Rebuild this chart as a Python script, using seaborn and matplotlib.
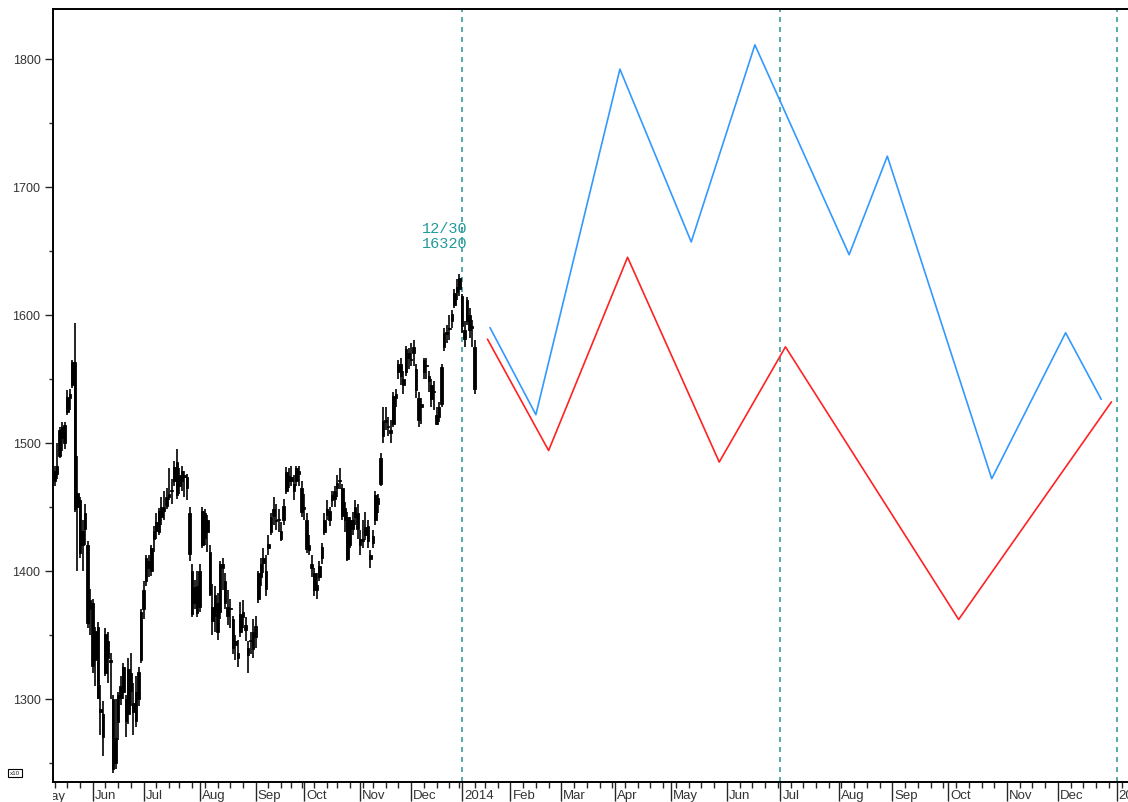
import numpy as np
import pandas as pd
import matplotlib
matplotlib.use("Agg")
import matplotlib.pyplot as plt
import seaborn as sns
from matplotlib.transforms import Bbox, TransformedBbox, ScaledTranslation

# ---------------- data (index /10) ----------------
# daily candles, 2013-05-13 .. 2014-01-14 (Tokyo trading days)
open_ = [
    1470, 1482, 1490, 1512, 1500, 1524, 1535, 1545, 1563, 1450, 1455, 1420, 1445, 1420, 1370,  # May
    1375, 1330, 1356, 1292, 1270, 1320, 1345, 1330, 1300, 1250, 1282, 1310, 1305, 1300, 1288,
    1320, 1290, 1305, 1300, 1330,  # Jun
    1370, 1392, 1408, 1400, 1425, 1438, 1430, 1450, 1450, 1458, 1458, 1462, 1470, 1485, 1475,
    1470, 1475, 1465, 1445, 1400, 1375, 1388,  # Jul
    1372, 1420, 1445, 1430, 1415, 1372, 1365, 1375, 1368, 1402, 1392, 1372, 1370, 1362, 1345,
    1332, 1352, 1368, 1358, 1340, 1345, 1352,  # Aug
    1348, 1378, 1395, 1410, 1400, 1418, 1430, 1448, 1440, 1440, 1425, 1440, 1462, 1470, 1470,
    1468, 1470, 1478, 1465,  # Sep
    1450, 1440, 1420, 1405, 1398, 1385, 1395, 1410, 1430, 1448, 1440, 1455, 1462, 1465, 1470,
    1465, 1440, 1442, 1420, 1440, 1442, 1445,  # Oct
    1425, 1425, 1428, 1435, 1412, 1422, 1440, 1452, 1468, 1505, 1518, 1512, 1510, 1515, 1535,
    1555, 1562, 1550, 1555, 1570,  # Nov
    1565, 1570, 1558, 1535, 1528, 1555, 1560, 1548, 1545, 1540, 1522, 1520, 1530, 1575, 1585,
    1590, 1595, 1608, 1622, 1620,  # Dec
    1615, 1588, 1595, 1600, 1590, 1575,  # Jan
]
high = [
    1482, 1500, 1512, 1516, 1516, 1541, 1542, 1565, 1594, 1490, 1458, 1440, 1452, 1423, 1386,
    1378, 1356, 1360, 1311, 1298, 1355, 1352, 1336, 1303, 1300, 1305, 1318, 1328, 1303, 1332,
    1336, 1312, 1318, 1325, 1370,
    1392, 1412, 1412, 1420, 1435, 1445, 1449, 1458, 1462, 1465, 1480, 1472, 1486, 1495, 1480,
    1482, 1478, 1476, 1450, 1405, 1393, 1400,
    1405, 1450, 1448, 1444, 1420, 1390, 1388, 1383, 1408, 1410, 1398, 1385, 1378, 1365, 1350,
    1346, 1376, 1377, 1364, 1345, 1352, 1362,
    1365, 1400, 1410, 1418, 1412, 1428, 1445, 1458, 1452, 1448, 1438, 1456, 1481, 1480, 1482,
    1475, 1482, 1482, 1470,
    1460, 1445, 1428, 1412, 1402, 1398, 1408, 1422, 1445, 1455, 1450, 1462, 1466, 1475, 1480,
    1468, 1454, 1446, 1442, 1446, 1455, 1452,
    1432, 1440, 1446, 1440, 1416, 1432, 1462, 1460, 1492, 1528, 1528, 1520, 1518, 1540, 1542,
    1565, 1566, 1556, 1576, 1574,
    1578, 1580, 1562, 1540, 1535, 1566, 1566, 1556, 1550, 1548, 1528, 1532, 1562, 1590, 1592,
    1600, 1604, 1620, 1628, 1632,
    1616, 1595, 1614, 1605, 1596, 1580,
]
low = [
    1466, 1472, 1488, 1494, 1495, 1522, 1526, 1543, 1446, 1400, 1410, 1400, 1420, 1355, 1350,
    1320, 1310, 1300, 1272, 1255, 1318, 1312, 1300, 1242, 1245, 1268, 1295, 1300, 1270, 1280,
    1294, 1272, 1278, 1294, 1328,
    1362, 1388, 1395, 1396, 1415, 1425, 1428, 1436, 1440, 1448, 1455, 1452, 1466, 1456, 1460,
    1462, 1458, 1455, 1408, 1364, 1370, 1364,
    1368, 1418, 1420, 1415, 1380, 1350, 1352, 1346, 1362, 1385, 1370, 1358, 1355, 1335, 1330,
    1325, 1348, 1355, 1345, 1320, 1335, 1332,
    1340, 1375, 1388, 1398, 1380, 1412, 1428, 1436, 1432, 1430, 1423, 1436, 1460, 1465, 1466,
    1455, 1466, 1466, 1442,
    1440, 1414, 1412, 1395, 1380, 1378, 1392, 1405, 1428, 1440, 1435, 1450, 1450, 1458, 1464,
    1440, 1430, 1408, 1418, 1428, 1436, 1425,
    1412, 1418, 1424, 1418, 1402, 1418, 1436, 1445, 1466, 1500, 1510, 1505, 1500, 1512, 1528,
    1550, 1545, 1538, 1552, 1558,
    1560, 1560, 1535, 1512, 1515, 1550, 1550, 1540, 1528, 1526, 1514, 1516, 1528, 1572, 1578,
    1580, 1590, 1605, 1612, 1615,
    1586, 1575, 1592, 1582, 1575, 1538,
]
close = [
    1478, 1476, 1510, 1504, 1514, 1536, 1538, 1563, 1448, 1461, 1414, 1431, 1433, 1359, 1377,
    1326, 1353, 1301, 1290, 1288, 1351, 1332, 1329, 1245, 1269, 1303, 1301, 1325, 1283, 1323,
    1306, 1297, 1283, 1321, 1368,
    1385, 1410, 1402, 1418, 1431, 1431, 1447, 1442, 1447, 1451, 1460, 1462, 1481, 1459, 1466,
    1478, 1473, 1473, 1413, 1366, 1387, 1367,
    1400, 1447, 1426, 1440, 1382, 1361, 1381, 1352, 1405, 1405, 1375, 1365, 1370, 1340, 1342,
    1336, 1366, 1364, 1354, 1334, 1346, 1339,
    1357, 1398, 1405, 1406, 1386, 1421, 1442, 1443, 1439, 1440, 1431, 1451, 1477, 1474, 1473,
    1462, 1480, 1476, 1446,
    1448, 1417, 1416, 1402, 1385, 1389, 1404, 1419, 1440, 1444, 1447, 1459, 1456, 1469, 1471,
    1443, 1449, 1409, 1440, 1433, 1450, 1433,
    1420, 1423, 1434, 1423, 1409, 1427, 1459, 1457, 1488, 1517, 1516, 1513, 1508, 1537, 1538,
    1562, 1552, 1545, 1573, 1566,
    1565, 1575, 1541, 1518, 1530, 1565, 1561, 1552, 1534, 1540, 1515, 1528, 1559, 1586, 1587,
    1589, 1601, 1617, 1618, 1629,
    1591, 1581, 1612, 1588, 1591, 1542,
]

# projection lines for 2014
blue_dates = ["2014-01-22", "2014-02-17", "2014-04-03", "2014-05-13", "2014-06-17",
              "2014-08-07", "2014-08-28", "2014-10-24", "2014-12-04", "2014-12-24"]
blue_values = [1590, 1522, 1792, 1657, 1811, 1647, 1724, 1472, 1586, 1534]
red_dates = ["2014-01-21", "2014-02-24", "2014-04-08", "2014-05-28", "2014-07-03",
             "2014-10-07", "2014-12-30"]
red_values = [1581, 1494, 1645, 1485, 1575, 1362, 1532]

market_holidays = ["2013-05-03", "2013-05-06", "2013-07-15", "2013-09-16", "2013-09-23",
                   "2013-10-14", "2013-11-04", "2013-12-23", "2013-12-31", "2014-01-01",
                   "2014-01-02", "2014-01-03", "2014-01-13"]
candle_start = "2013-05-13"
origin_day = "2014-01-06"
marker_days = ["2014-01-06", "2014-07-01", "2015-01-01"]
note_day = "2013-12-30"
note_text = "12/30\n16320"
y_ticks = [1300, 1400, 1500, 1600, 1700, 1800]

# ---------------- calendar ----------------
days = pd.bdate_range("2013-05-01", "2015-01-30")
days = days[~days.isin(pd.to_datetime(market_holidays))]
origin_idx = days.get_loc(pd.Timestamp(origin_day))
pos = pd.Series(np.arange(len(days)) - origin_idx, index=days)

cdays = days[days >= pd.Timestamp(candle_start)][:len(close)]
xc = pos[cdays].values.astype(float)
o = np.array(open_, float)[:len(xc)]
h = np.array(high, float)[:len(xc)]
l = np.array(low, float)[:len(xc)]
c = np.array(close, float)[:len(xc)]

XMIN, XMAX = -160.6, 261.5

# ---------------- figure ----------------
sns.set_style("white")
plt.rcParams["font.family"] = ["Liberation Sans", "DejaVu Sans"]
fig = plt.figure(figsize=(11.28, 8.03), dpi=100)
ax = fig.add_axes([53 / 1128, 1 - 783 / 803, 1 - 53 / 1128, (783 - 10) / 803])

# dashed markers
for d in marker_days:
    ax.axvline(pos[pd.Timestamp(d)], color="#3a9c9c", lw=1.2, ls=(0, (3, 3)), zorder=1)

# candles (dense daily bars: wick + filled body)
ax.vlines(xc, l, h, color="black", lw=1.2, zorder=3)
body_lo = np.minimum(o, c)
body_h = np.maximum(np.abs(c - o), 0.8)
ax.bar(xc, body_h, bottom=body_lo, width=1.0, color="black", edgecolor="black",
       linewidth=0.6, zorder=4)

# projections
bx = pos[pd.to_datetime(blue_dates)].values
rx = pos[pd.to_datetime(red_dates)].values
blue_df = pd.DataFrame({"x": bx, "y": blue_values})
red_df = pd.DataFrame({"x": rx, "y": red_values})
sns.lineplot(data=blue_df, x="x", y="y", color="#3399ff", lw=1.2, ax=ax,
             sort=False, estimator=None, zorder=5)
sns.lineplot(data=red_df, x="x", y="y", color="#ff2222", lw=1.2, ax=ax,
             sort=False, estimator=None, zorder=5)

# annotation
ax.text(pos[pd.Timestamp(note_day)] + 3.2, 1662, note_text, ha="right", va="center",
        family="Liberation Mono", fontsize=11, color="#229a9a", linespacing=1.05,
        zorder=6)

ax.set_xlabel("")
ax.set_ylabel("")

# y ticks
ax.set_yticks(y_ticks)
ax.set_yticks(np.arange(1250, 1850, 100), minor=True)
ax.tick_params(axis="y", which="major", length=6, width=1, direction="out",
               labelsize=9, labelcolor="#333333", pad=3, left=True)
ax.tick_params(axis="y", which="minor", length=3, width=1, direction="out", left=True)

# x ticks: month starts and weekly minors (only those inside the view)
s = pd.Series(days, index=days)
month_first = s.groupby([days.year, days.month]).first()
iso = days.isocalendar()
week_first = s.groupby([iso.year.values, iso.week.values]).first()
m_in = [d for d in month_first if XMIN <= pos[d] <= XMAX]
w_in = [pos[d] for d in week_first if XMIN <= pos[d] <= XMAX]
ax.set_xticks([pos[d] for d in m_in])
ax.set_xticklabels([str(d.year) if d.month == 1 else d.strftime("%b") for d in m_in])
ax.set_xticks(w_in, minor=True)
ax.tick_params(axis="x", which="major", length=14, width=1, direction="out",
               labelsize=9.5, labelcolor="#333333", pad=-9, bottom=True)
ax.tick_params(axis="x", which="minor", length=4, width=1, direction="out", bottom=True)
off = ScaledTranslation(2 / 100, 0, fig.dpi_scale_trans)
for t in ax.get_xticklabels():
    t.set_ha("left")
    t.set_transform(t.get_transform() + off)

ax.set_xlim(XMIN, XMAX)
ax.set_ylim(1235, 1839)

# partial "May" label at the left edge (month started before the view)
may_x = pos[month_first.iloc[0]]
mt = ax.text(may_x, -0.0098, "May", transform=ax.get_xaxis_transform(), ha="left", va="top",
             fontsize=9.5, color="#333333")
mt.set_transform(mt.get_transform() + off)
mt.set_clip_box(TransformedBbox(Bbox([[0, -1], [1, 1]]), ax.transAxes))
mt.set_clip_on(True)

for side in ["left", "bottom", "top"]:
    ax.spines[side].set_color("black")
    ax.spines[side].set_linewidth(1.4)
ax.spines["right"].set_visible(False)

fig.text(10 / 1128, 1 - 774 / 803, "x10", fontsize=4.5, va="center", ha="left",
         bbox=dict(boxstyle="square,pad=0.25", fc="white", ec="black", lw=0.8))

fig.savefig("out.png", dpi=100)
